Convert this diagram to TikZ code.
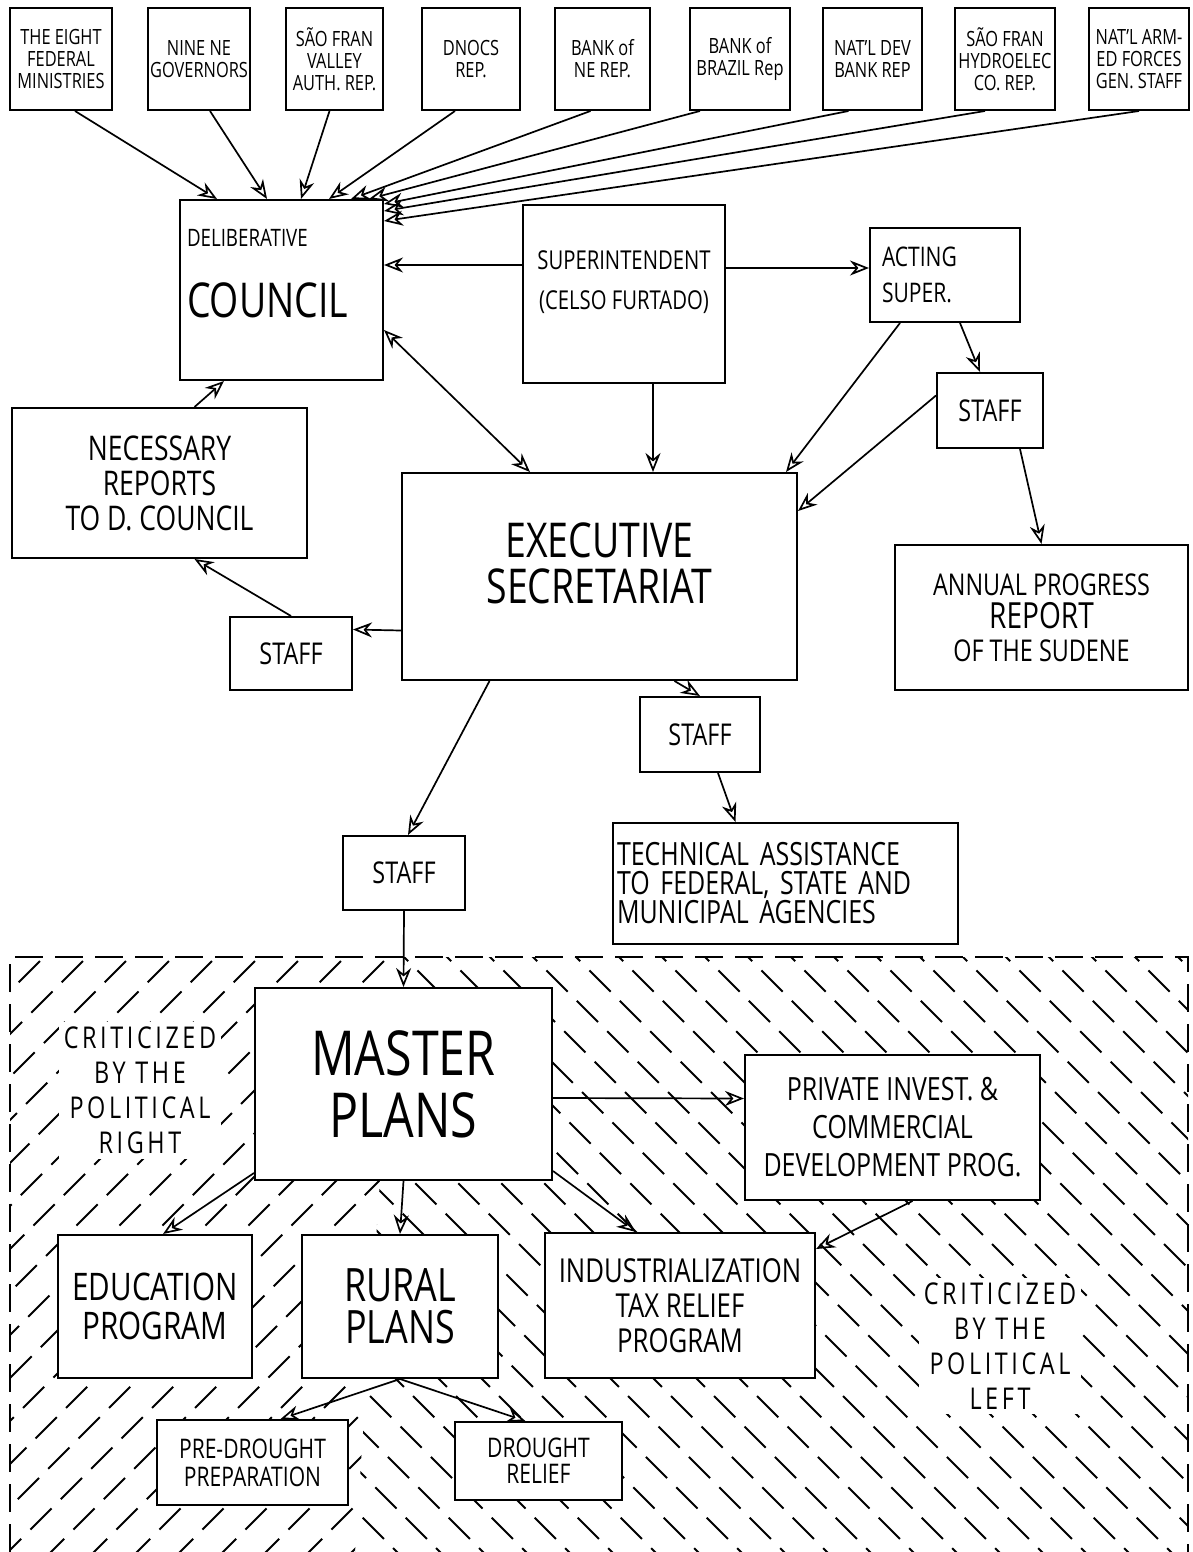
\documentclass[tikz,border=0pt]{standalone}
\usepackage{fontspec}
\setmainfont{Open Sans}[FakeStretch=0.78]
\usetikzlibrary{arrows.meta,calc}
\newcommand\fsz[2]{\fontsize{#1}{#2}\selectfont}
\begin{document}
\begin{tikzpicture}[x=1pt,y=-1pt,
 box/.style={draw, line width=2pt, fill=white, inner sep=2pt, align=center},
 top/.style={box, minimum height=102pt, font=\fsz{21}{22}},
 tip/.tip={Stealth[open,length=19pt,width=15pt,line width=1.7pt]},
 arr/.style={line width=1.7pt, -tip},
 darr/.style={line width=1.7pt, tip-tip},
 hatch/.style={line width=2pt, dash pattern=on 30pt off 13pt},
 border/.style={line width=2pt, dash pattern=on 28pt off 12pt},
 crit/.style={fill=white, inner sep=5pt, align=center, font={\fsz{30}{35}\addfontfeature{LetterSpace=12}}}]
\useasboundingbox (0,0) rectangle (1193,1552);
\fill[white] (0,0) rectangle (1193,1552);

% hatched region
\begin{scope}
\clip (10,957) -- (395,957) -- (355,1552) -- (10,1552) -- cycle;
\foreach \i in {-15,...,10} \draw[hatch] (\i*43,1560) -- ++(620,-620);
\end{scope}
\begin{scope}
\clip (395,957) -- (1188,957) -- (1188,1552) -- (355,1552) -- cycle;
\foreach \i in {-7,...,28} \draw[hatch] (\i*43,940) -- ++(620,620);
\end{scope}
\draw[border] (10,1552) -- (10,957) -- (1188,957) -- (1188,1552);

% top row
\node[top, minimum width=102pt] (b1) at (61,59) {THE EIGHT\\FEDERAL\\MINISTRIES};
\node[top, minimum width=102pt] (b2) at (199,59) {NINE NE\\GOVERNORS};
\node[top, minimum width=97pt] (b3) at (334.5,59) {SÃO FRAN\\VALLEY\\AUTH. REP.};
\node[top, minimum width=98pt] (b4) at (471,59) {DNOCS\\REP.};
\node[top, minimum width=95pt] (b5) at (602.5,59) {BANK of\\NE REP.};
\node[top, minimum width=100pt] (b6) at (740,59) {BANK of\\BRAZIL Rep};
\node[top, minimum width=99pt] (b7) at (872.5,59) {NAT'L DEV\\BANK REP};
\node[top, minimum width=100pt] (b8) at (1005,59) {SÃO FRAN\\HYDROELEC\\CO. REP.};
\node[top, minimum width=100pt] (b9) at (1139,59) {NAT'L ARM-\\ED FORCES\\GEN. STAFF};

% main boxes
\node[box, minimum width=203pt, minimum height=180pt, align=left, inner xsep=6pt, text width=189pt, text depth=105pt] (cou) at (281.5,290)
  {{\fsz{24}{28}DELIBERATIVE}\\[36pt]{\fsz{48}{50}COUNCIL}};
\node[box, minimum width=202pt, minimum height=178pt, font=\fsz{26}{40}] (sup) at (624,294)
  {SUPERINTENDENT\\(CELSO FURTADO)\\[-12pt]};
\node[box, minimum width=150pt, minimum height=94pt, align=left, inner xsep=12pt, text width=126pt, font=\fsz{27}{36}] (act) at (945,275)
  {ACTING\\SUPER.};
\node[box, minimum width=106pt, minimum height=75pt, font=\fsz{30}{34}] (sr) at (990,410.5) {STAFF};
\node[box, minimum width=295pt, minimum height=150pt, font=\fsz{34}{35}] (nec) at (159.5,483)
  {NECESSARY\\REPORTS\\TO D. COUNCIL};
\node[box, minimum width=395pt, minimum height=207pt, font=\fsz{48}{46}] (exe) at (599.5,576.5)
  {EXECUTIVE\\SECRETARIAT\\[-20pt]};
\node[box, minimum width=293pt, minimum height=145pt, font=\fsz{30}{33}] (ann) at (1041.5,617.5)
  {ANNUAL PROGRESS\\{\fsz{36}{33}REPORT}\\OF THE SUDENE};
\node[box, minimum width=122pt, minimum height=73pt, font=\fsz{30}{34}] (sl) at (291,653.5) {STAFF};
\node[box, minimum width=120pt, minimum height=75pt, font=\fsz{30}{34}] (sm) at (700,734.5) {STAFF};
\node[box, minimum width=122pt, minimum height=74pt, font=\fsz{30}{34}] (sb) at (404,873) {STAFF};
\node[box, minimum width=345pt, minimum height=121pt, align=left, inner xsep=4pt, text width=337pt, font=\fsz{32}{29}] (tec) at (785.5,883.5)
  {TECHNICAL ASSISTANCE\\TO FEDERAL, STATE AND\\MUNICIPAL AGENCIES};
\node[box, minimum width=297pt, minimum height=192pt, font=\fsz{62}{62}] (mas) at (403.5,1084)
  {MASTER\\PLANS};
\node[box, minimum width=295pt, minimum height=145pt, font=\fsz{32}{38}] (pri) at (892.5,1127.5)
  {PRIVATE INVEST. \&\\COMMERCIAL\\DEVELOPMENT PROG.};
\node[box, minimum width=194pt, minimum height=143pt, font=\fsz{38}{39}] (edu) at (155,1306.5)
  {EDUCATION\\PROGRAM};
\node[box, minimum width=196pt, minimum height=143pt, font=\fsz{46}{42}] (rur) at (400,1306.5)
  {RURAL\\PLANS};
\node[box, minimum width=270pt, minimum height=145pt, font=\fsz{33}{35}] (ind) at (680,1305.5)
  {INDUSTRIALIZATION\\TAX RELIEF\\PROGRAM};
\node[box, minimum width=191pt, minimum height=85pt, font=\fsz{27}{28}] (pre) at (252.5,1462.5)
  {PRE-DROUGHT\\PREPARATION};
\node[box, minimum width=167pt, minimum height=78pt, font=\fsz{27}{26}] (dro) at (538.5,1461)
  {DROUGHT\\RELIEF};

\node[crit] (cr) at (140,1090) {CRITICIZED\\BY THE\\POLITICAL\\RIGHT};
\node[crit] (cl) at (1000,1346) {CRITICIZED\\BY THE\\POLITICAL\\LEFT};

% connectors top row -> council
\draw[arr] ([xshift=14pt]b1.south) -- ([xshift=38pt]cou.north west);
\draw[arr] ([xshift=11pt]b2.south) -- ([xshift=88pt]cou.north west);
\draw[arr] ([xshift=-5pt]b3.south) -- ([xshift=122pt]cou.north west);
\draw[arr] ([xshift=-16pt]b4.south) -- ([xshift=150pt]cou.north west);
\draw[arr] ([xshift=-12pt]b5.south) -- ([xshift=172pt]cou.north west);
\draw[arr] ([xshift=-40pt]b6.south) -- ([xshift=190pt]cou.north west);
\draw[arr] ([xshift=-24pt]b7.south) -- ([yshift=-5pt]cou.north east);
\draw[arr] ([xshift=-20pt]b8.south) -- ([yshift=-12pt]cou.north east);
\draw[arr] ([xshift=0pt]b9.south) -- ([yshift=-22pt]cou.north east);

\draw[arr] ([yshift=29pt]sup.west) -- ([yshift=25pt]cou.east);
\draw[arr] ([yshift=26pt]sup.east) -- ([yshift=7pt]act.west);
\draw[arr] ([xshift=29pt]sup.south) -- ([xshift=53.5pt]exe.north);
\draw[darr] ([yshift=-40pt]cou.east) -- ([xshift=-69.5pt]exe.north);
\draw[arr] ([xshift=-45pt]act.south) -- ([xshift=-12pt]exe.north east);
\draw[arr] ([xshift=15pt]act.south) -- ([xshift=-10pt]sr.north);
\draw[arr] ([yshift=15pt]sr.west) -- ([yshift=-39pt]exe.north east);
\draw[arr] ([xshift=30pt]sr.south) -- (ann.north);
\draw[arr] ([yshift=-54pt]exe.west) -- ([yshift=24pt]sl.east);
\draw[arr] (sl.north) -- ([xshift=35pt]nec.south);
\draw[arr] ([xshift=35pt]nec.north) -- ([xshift=45pt]cou.south west);
\draw[arr] ([xshift=-110pt]exe.south) -- ([xshift=4pt]sb.north);
\draw[arr] ([xshift=75pt]exe.south) -- (sm.north);
\draw[arr] ([xshift=18pt]sm.south) -- ([xshift=-50pt]tec.north);
\draw[arr] (sb.south) -- (mas.north);
\draw[arr] ([yshift=-14pt]mas.east) -- ([yshift=29pt]pri.west);
\draw[arr] ([yshift=8pt]mas.south west) -- ([xshift=8pt]edu.north);
\draw[arr] (mas.south) -- (rur.north);
\draw[arr] ([yshift=10pt]mas.south east) -- ([xshift=-44pt]ind.north);
\draw[arr] ([xshift=20pt]pri.south) -- ([yshift=-17pt]ind.north east);
\draw[arr] (rur.south) -- ([xshift=28pt]pre.north);
\draw[arr] (rur.south) -- ([xshift=-13pt]dro.north);
\end{tikzpicture}
\end{document}
